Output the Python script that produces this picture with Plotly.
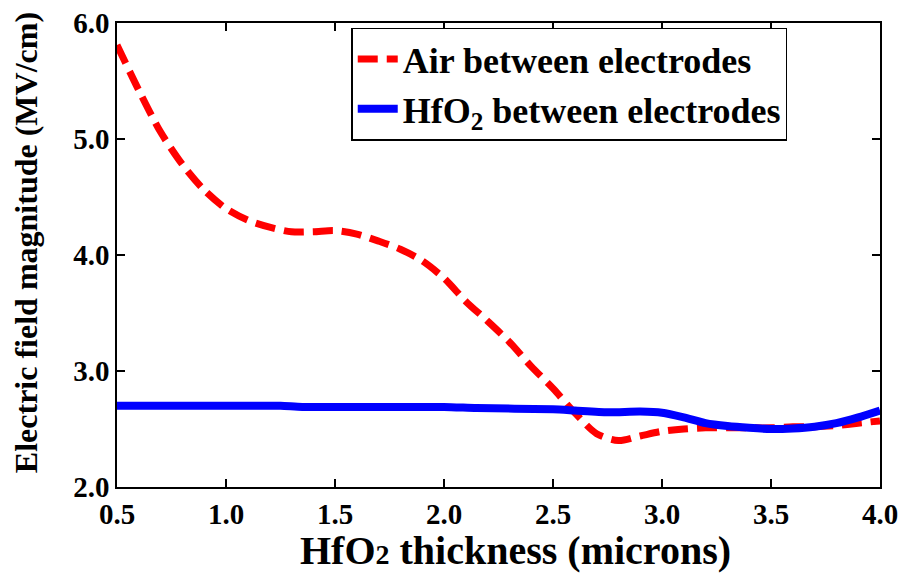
import plotly.graph_objects as go

air_x = [0.50, 0.60, 0.70, 0.80, 0.90, 1.00, 1.10, 1.20, 1.30, 1.40, 1.50, 1.60, 1.70, 1.80,
         1.90, 2.00, 2.10, 2.20, 2.30, 2.40, 2.50, 2.60, 2.70, 2.80, 2.90, 3.00, 3.10, 3.20,
         3.30, 3.40, 3.50, 3.60, 3.70, 3.80, 3.90, 4.00]
air_y = [5.81, 5.42, 5.06, 4.78, 4.56, 4.40, 4.30, 4.24, 4.20, 4.20, 4.21, 4.18, 4.12, 4.05,
         3.95, 3.80, 3.60, 3.43, 3.25, 3.04, 2.85, 2.64, 2.46, 2.40, 2.44, 2.48, 2.50, 2.51,
         2.51, 2.51, 2.51, 2.52, 2.52, 2.53, 2.55, 2.57]

hfo2_x = [0.50, 1.00, 1.25, 1.35, 2.00, 2.15, 2.50, 2.60, 2.75, 2.90, 3.00, 3.10, 3.20,
          3.30, 3.40, 3.50, 3.60, 3.70, 3.80, 3.90, 4.00]
hfo2_y = [2.70, 2.70, 2.70, 2.69, 2.69, 2.68, 2.67, 2.66, 2.645, 2.65, 2.64, 2.60, 2.55,
          2.525, 2.51, 2.50, 2.505, 2.52, 2.55, 2.60, 2.66]

x_ticks = [0.5, 1.0, 1.5, 2.0, 2.5, 3.0, 3.5, 4.0]
y_ticks = [2.0, 3.0, 4.0, 5.0, 6.0]

FONT = "Liberation Serif"

fig = go.Figure()
fig.add_trace(go.Scatter(
    x=air_x, y=air_y, mode="lines", name="<b>Air between electrodes</b>",
    line=dict(color="#FF0000", width=7, dash="20px,9px", shape="spline", smoothing=0.8),
))
fig.add_trace(go.Scatter(
    x=hfo2_x, y=hfo2_y, mode="lines", name="<b>HfO<sub>2</sub> between electrodes</b>",
    line=dict(color="#0000FF", width=8, shape="spline", smoothing=0.6),
))

axis_common = dict(
    showline=True, linecolor="black", linewidth=1.5, mirror="ticks",
    ticks="inside", ticklen=8, tickwidth=1.5, tickcolor="black",
    showgrid=False, zeroline=False, automargin=False,
    tickfont=dict(family=FONT, size=29, color="black", weight="bold"),
)

fig.update_xaxes(
    range=[0.5, 4.0], tickvals=x_ticks, ticktext=[f"{v:.1f}" for v in x_ticks],
    **axis_common,
)
fig.update_yaxes(
    range=[2.0, 6.0], tickvals=y_ticks, ticktext=[f"{v:.1f}" for v in y_ticks],
    **axis_common,
)

fig.add_annotation(
    text="<b>HfO<span style='font-size:28px'>2</span> thickness (microns)</b>",
    xref="paper", yref="paper", x=0.522, y=-0.136, xanchor="center", yanchor="middle",
    showarrow=False, font=dict(family=FONT, size=40, color="black"),
)
fig.add_annotation(
    text="<b>Electric field magnitude (MV/cm)</b>",
    xref="paper", yref="paper", x=-0.119, y=0.526, xanchor="center", yanchor="middle",
    textangle=-90, showarrow=False, font=dict(family=FONT, size=32, color="black"),
)

fig.update_layout(
    width=908, height=574,
    margin=dict(l=117, r=28, t=23, b=87),
    plot_bgcolor="white", paper_bgcolor="white",
    font=dict(family=FONT, color="black"),
    legend=dict(
        x=0.307, y=0.99, xanchor="left", yanchor="top",
        bgcolor="white", bordercolor="black", borderwidth=1.5,
        font=dict(family=FONT, size=36, color="black"),
        tracegroupgap=0, itemwidth=40,
    ),
)

fig.write_html("out.html", config={"displayModeBar": False},
               post_script="document.body.style.margin='0';")
